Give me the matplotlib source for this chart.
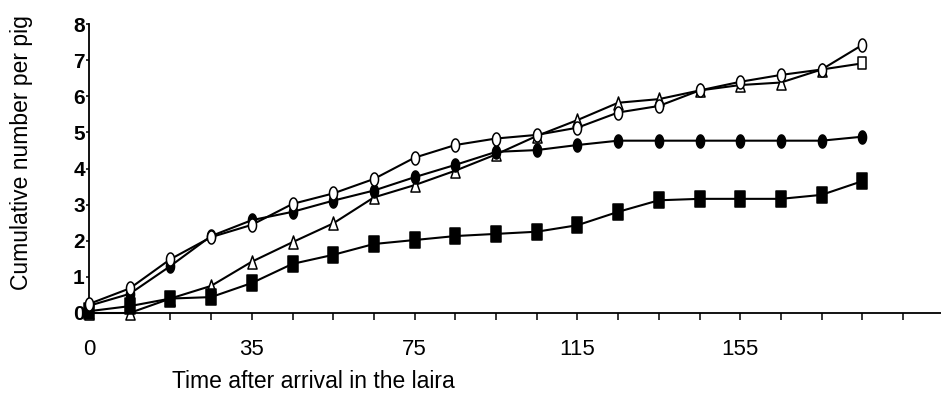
import numpy as np
import matplotlib
matplotlib.use("Agg")
import matplotlib.pyplot as plt
from matplotlib.path import Path

# sample index along the time axis, labelled every 4th step
time_labels = ["0", "35", "75", "115", "155"]
label_steps = [0, 4, 8, 12, 16]

open_circle = [0.25, 0.68, 1.49, 2.10, 2.44, 3.02, 3.31, 3.71, 4.30, 4.65,
               4.83, 4.93, 5.13, 5.55, 5.73, 6.16, 6.40, 6.59, 6.74, 7.42]
filled_circle = [0.20, 0.53, 1.30, 2.13, 2.57, 2.80, 3.11, 3.39, 3.76, 4.10,
                 4.46, 4.51, 4.65, 4.77, 4.77, 4.77, 4.77, 4.77, 4.77, 4.88]
open_triangle = [0.00, 0.00, 0.40, 0.75, 1.42, 1.96, 2.48, 3.20, 3.54, 3.94,
                 4.39, 4.90, 5.34, 5.82, 5.92, 6.16, 6.31, 6.38, 6.74, 6.91]
filled_square = [0.05, 0.19, 0.40, 0.44, 0.83, 1.36, 1.61, 1.91, 2.02, 2.13,
                 2.19, 2.25, 2.43, 2.80, 3.12, 3.16, 3.16, 3.16, 3.27, 3.65]

steps = np.arange(len(open_circle))

plt.rcParams['font.family'] = ['Liberation Sans', 'DejaVu Sans']

# the original markers are taller than wide
t = np.linspace(0, 2 * np.pi, 40)
ellipse = Path(np.column_stack([0.62 * np.cos(t), np.sin(t)]), closed=True)
tall_square = Path([(-0.62, -1), (0.62, -1), (0.62, 1), (-0.62, 1), (-0.62, -1)], closed=True)
open_sq = Path([(-0.6, -1), (0.6, -1), (0.6, 1), (-0.6, 1), (-0.6, -1)], closed=True)
tall_tri = Path([(0, 1), (-0.7, -1), (0.7, -1), (0, 1)], closed=True)

fig = plt.figure(figsize=(9.41, 3.93), dpi=100)
ax = fig.add_axes([89 / 941, 1 - 313 / 393, 1 - 89 / 941, (313 - 24) / 393])

lw = 1.5
mew = 1.1
ax.plot(steps, open_triangle, color='black', lw=lw, marker=tall_tri, ms=9.4,
        mfc='white', mec='black', mew=mew, markevery=slice(0, len(steps) - 1),
        clip_on=False, zorder=3)
ax.plot(steps[-1:], open_triangle[-1:], ls='none', marker=open_sq, ms=9.2,
        mfc='white', mec='black', mew=mew, clip_on=False, zorder=3)
ax.plot(steps, filled_square, color='black', lw=lw, marker=tall_square, ms=11.4,
        mfc='black', mec='black', mew=mew, clip_on=False, zorder=3)
ax.plot(steps, filled_circle, color='black', lw=lw, marker=ellipse, ms=9.4,
        mfc='black', mec='black', mew=mew, clip_on=False, zorder=4)
ax.plot(steps, open_circle, color='black', lw=lw, marker=ellipse, ms=9.4,
        mfc='white', mec='black', mew=mew, clip_on=False, zorder=4)

ax.set_xlim(0, (941 - 89) / 40.7)
ax.set_ylim(0, 8)
for s in ['top', 'right']:
    ax.spines[s].set_visible(False)
ax.spines['left'].set_linewidth(1.3)
ax.spines['bottom'].set_linewidth(1.3)

ax.set_xticks(np.arange(0, 21))
ax.set_xticklabels([time_labels[label_steps.index(i)] if i in label_steps else ""
                    for i in range(21)])
ax.tick_params(axis='x', direction='out', length=5, width=1.1, pad=14, labelsize=16)

ax.set_yticks(range(0, 9))
ax.tick_params(axis='y', direction='out', length=2.5, width=1.1, pad=0.5, labelsize=15)
for lab in ax.get_yticklabels():
    lab.set_fontweight('bold')

fig.text(313 / 941, 1 - 382 / 393, "Time after arrival in the laira",
         ha='center', va='center', fontsize=16.5)
fig.text(22 / 941, 1 - 153 / 393, "Cumulative number per pig",
         ha='center', va='center', rotation=90, fontsize=16.5)

fig.savefig("out.png", dpi=100)
